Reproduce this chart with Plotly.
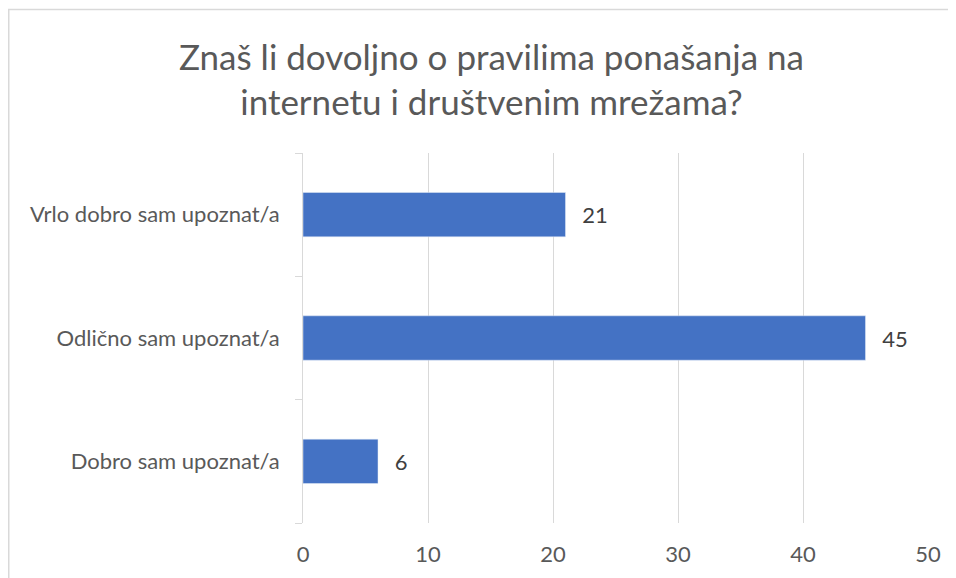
import plotly.graph_objects as go

categories = ["Dobro sam upoznat/a", "Odlično sam upoznat/a", "Vrlo dobro sam upoznat/a"]
values = [6, 45, 21]
x_ticks = [0, 10, 20, 30, 40, 50]

FONT = "Lato, 'Open Sans', sans-serif"
GRID = "#d9d9d9"

# the page body adds an 8px offset, so the figure is 8px smaller than the window
W, H = 948, 570
L, T, R, B = 295, 145, 28, 55

fig = go.Figure(go.Bar(
    x=values,
    y=categories,
    orientation="h",
    marker_color="#4472c4",
    width=0.36,
    text=values,
    texttemplate="\u2002\u2009%{text}",
    textposition="outside",
    textfont=dict(family=FONT, size=22, color="#404040"),
    cliponaxis=False,
))

plot_w = W - L - R
plot_h = H - T - B

# chart frame: only the left and top edges are visible in the reference
fx0 = (0.75 - L) / plot_w
fy1 = (H - B - 1.5) / plot_h
frame = f"M {fx0},-0.5 L {fx0},{fy1} L 1.6,{fy1}"

fig.update_layout(
    width=W,
    height=H,
    paper_bgcolor="white",
    plot_bgcolor="white",
    margin=dict(l=L, r=R, t=T, b=B),
    showlegend=False,
    title=dict(
        text="Znaš li dovoljno o pravilima ponašanja na<br>internetu i društvenim mrežama?",
        x=0.51,
        xanchor="center",
        y=0.892,
        yanchor="middle",
        font=dict(family=FONT, size=35, color="#595959"),
    ),
    xaxis=dict(
        range=[0, 50],
        tickvals=x_ticks,
        showgrid=True,
        gridcolor=GRID,
        gridwidth=1,
        zeroline=False,
        showline=False,
        ticks="",
        tickfont=dict(family=FONT, size=22, color="#595959"),
        ticklabelstandoff=16,
    ),
    yaxis=dict(
        range=[-0.5, 2.5],
        showline=True,
        linecolor=GRID,
        linewidth=1,
        ticks="outside",
        tickson="boundaries",
        ticklen=7,
        tickcolor=GRID,
        showgrid=False,
        tickfont=dict(family=FONT, size=22, color="#595959"),
        ticklabelstandoff=18,
    ),
    shapes=[dict(
        type="path",
        xref="paper", yref="paper",
        path=frame,
        line=dict(color=GRID, width=1.5),
        layer="below",
    )],
)

fig.write_html("out.html")
